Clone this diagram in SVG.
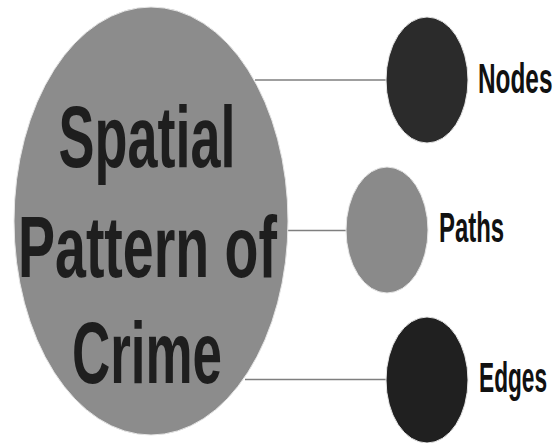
<svg xmlns="http://www.w3.org/2000/svg" width="557" height="443" viewBox="0 0 557 443">
<style>
.big{font-family:"Liberation Sans",Arial,sans-serif;font-weight:bold;font-size:88px;fill:#1e1e1e;text-anchor:middle}
.lbl{font-family:"Liberation Sans",Arial,sans-serif;font-weight:bold;font-size:42px;fill:#111}
.conn{stroke:#7f7f7f;stroke-width:1.6;fill:none}
.edge{stroke:#e6e6e6;stroke-width:1}
</style>
<rect width="557" height="443" fill="#ffffff"/>
<g id="connectors">
<line class="conn" x1="255" y1="80" x2="387" y2="80"/>
<line class="conn" x1="287" y1="230.5" x2="347" y2="230.5"/>
<line class="conn" x1="245" y1="379.5" x2="387" y2="379.5"/>
</g>
<g id="center">
<ellipse class="edge" cx="151" cy="221" rx="137" ry="214" fill="#8c8c8c"/>
<text class="big" x="147" y="167" textLength="177" lengthAdjust="spacingAndGlyphs">Spatial</text>
<text class="big" x="147.5" y="277" textLength="259" lengthAdjust="spacingAndGlyphs">Pattern of</text>
<text class="big" x="147" y="383" textLength="150" lengthAdjust="spacingAndGlyphs">Crime</text>
</g>
<g id="nodes">
<ellipse class="edge" cx="427" cy="80" rx="41" ry="63" fill="#2b2b2b"/>
<text class="lbl" transform="translate(478,93) scale(0.58,1)">Nodes</text>
</g>
<g id="paths">
<ellipse class="edge" cx="387" cy="230" rx="41" ry="63" fill="#8a8a8a"/>
<text class="lbl" transform="translate(439,242) scale(0.57,1)">Paths</text>
</g>
<g id="edges">
<ellipse class="edge" cx="427" cy="380" rx="41" ry="63" fill="#202020"/>
<text class="lbl" transform="translate(479,392) scale(0.54,1)">Edges</text>
</g>
</svg>
